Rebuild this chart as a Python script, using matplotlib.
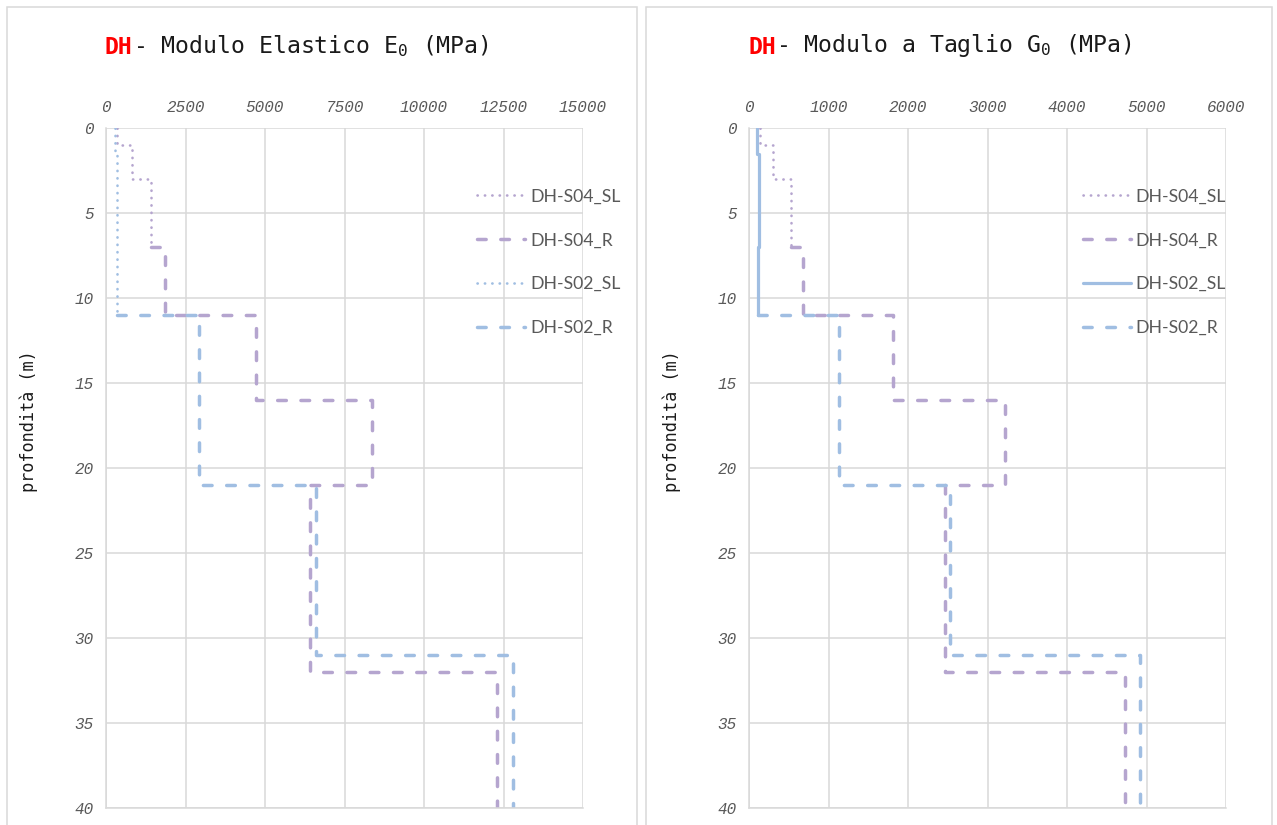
#!/usr/bin/env python3
"""Downhole elastic and shear modulus profiles (DH-S04 / DH-S02)."""
import matplotlib

matplotlib.use("Agg")
import matplotlib.pyplot as plt
from matplotlib.patches import Rectangle

# layer boundaries (m) and modulus per layer (MPa)
s04_sl_depth = [0, 1, 3, 7]
s04_sl_E = [340, 810, 1410]
s04_sl_G = [139, 303, 527]

s04_r_depth = [7, 11, 16, 21, 32, 40]
s04_r_E = [1850, 4720, 8360, 6420, 12310]
s04_r_G = [675, 1806, 3214, 2465, 4727]

s02_sl_depth = [0, 1.5, 7, 11]
s02_sl_E = [280, 360, 340]
s02_sl_G = [97, 127, 115]

s02_r_depth = [11, 21, 31, 40]
s02_r_E = [2930, 6590, 12790]
s02_r_G = [1127, 2531, 4920]

series_names = ["DH-S04_SL", "DH-S04_R", "DH-S02_SL", "DH-S02_R"]

E_ticks = [0, 2500, 5000, 7500, 10000, 12500, 15000]
G_ticks = [0, 1000, 2000, 3000, 4000, 5000, 6000]
depth_ticks = [0, 5, 10, 15, 20, 25, 30, 35, 40]

PURPLE = "#b5a5cf"
BLUE = "#a0bee2"
GRID = "#d9d9d9"
TICK_GRAY = "#595959"

W, H = 1277, 825

plt.rcParams["mathtext.fontset"] = "custom"
plt.rcParams["mathtext.rm"] = "DejaVu Sans Mono"
plt.rcParams["mathtext.it"] = "DejaVu Sans Mono:italic"


def step_profile(depths, values, start=None):
    """Turn layer boundaries + layer values into a stepped (x, depth) path."""
    xs, ys = [], []
    if start is not None:
        xs.append(start)
        ys.append(depths[0])
    for i, v in enumerate(values):
        xs += [v, v]
        ys += [depths[i], depths[i + 1]]
    return xs, ys


DOT = dict(linestyle=(0, (0.1, 2.7)), dash_capstyle="round", lw=1.9)
DASH = dict(linestyle=(0, (2.5, 4.2)), dash_capstyle="round", lw=2.5)
SOLID = dict(linestyle="-", lw=2.3, solid_capstyle="round")


def draw_panel(ax, sl4, r4, sl2, r2, xmax, xticks, s02_sl_style, legend_x):
    x, y = step_profile(s04_sl_depth, sl4)
    ax.plot(x, y, color=PURPLE, label=series_names[0], **DOT)
    x, y = step_profile(s04_r_depth, r4, start=sl4[-1])
    ax.plot(x, y, color=PURPLE, label=series_names[1], **DASH)
    x, y = step_profile(s02_sl_depth, sl2)
    ax.plot(x, y, color=BLUE, label=series_names[2], **s02_sl_style)
    x, y = step_profile(s02_r_depth, r2, start=sl2[-1])
    ax.plot(x, y, color=BLUE, label=series_names[3], **DASH)

    ax.set_xlim(0, xmax)
    ax.set_ylim(40, 0)
    ax.set_xticks(xticks)
    ax.set_yticks(depth_ticks)
    ax.xaxis.tick_top()
    ax.tick_params(length=0, colors=TICK_GRAY)
    ax.tick_params(axis="x", pad=9)
    ax.tick_params(axis="y", pad=9)
    for lab in ax.get_xticklabels() + ax.get_yticklabels():
        lab.set_fontfamily("Liberation Mono")
        lab.set_fontstyle("italic")
        lab.set_fontsize(11.5)
    ax.grid(True, color=GRID, lw=1.1)
    ax.set_axisbelow(True)
    for side, sp in ax.spines.items():
        sp.set_color(GRID)
        sp.set_linewidth(1.1)
        if side in ("top", "right"):
            sp.set_visible(False)

    ax.legend(loc="upper left", bbox_to_anchor=(legend_x, 0.911), frameon=False,
              borderpad=0, borderaxespad=0, handlelength=2.7, handletextpad=0.3,
              labelspacing=1.58, labelcolor=TICK_GRAY,
              prop={"family": "Lato", "size": 12.7})

    ax.set_ylabel("profondità (m)", family="DejaVu Sans Mono", fontsize=12.2,
                  color="#1a1a1a")
    ax.yaxis.set_label_coords(-0.143, 0.569)


def draw_title(fig, x_px, rest):
    t = fig.text(x_px / W, 1 - 54 / H, "DH", color="#ff0000", fontweight="bold",
                 fontsize=16.7, family="DejaVu Sans Mono", va="baseline")
    ann = plt.annotate(rest, xy=(1, 0), xycoords=t, va="bottom", ha="left",
                       fontsize=16.7, family="DejaVu Sans Mono", color="#1a1a1a",
                       annotation_clip=False)
    return ann


fig = plt.figure(figsize=(W / 100, H / 100), dpi=100)

# panel frames
for x0, x1 in [(7, 637), (646, 1272)]:
    fig.add_artist(Rectangle((x0 / W, -0.05), (x1 - x0) / W, 1.05 - 7 / H,
                             transform=fig.transFigure, fill=False,
                             edgecolor=GRID, lw=1.1))

ax_e = fig.add_axes([106 / W, 1 - 808 / H, 477 / W, 680 / H])
ax_g = fig.add_axes([749 / W, 1 - 808 / H, 477 / W, 680 / H])

draw_panel(ax_e, s04_sl_E, s04_r_E, s02_sl_E, s02_r_E, 15000, E_ticks, DOT, 0.778)
draw_panel(ax_g, s04_sl_G, s04_r_G, s02_sl_G, s02_r_G, 6000, G_ticks, SOLID, 0.70)

draw_title(fig, 105, r"- Modulo Elastico E$_0$ (MPa)")
draw_title(fig, 748, r"- Modulo a Taglio G$_0$ (MPa)")

fig.savefig("out.png", dpi=100)
